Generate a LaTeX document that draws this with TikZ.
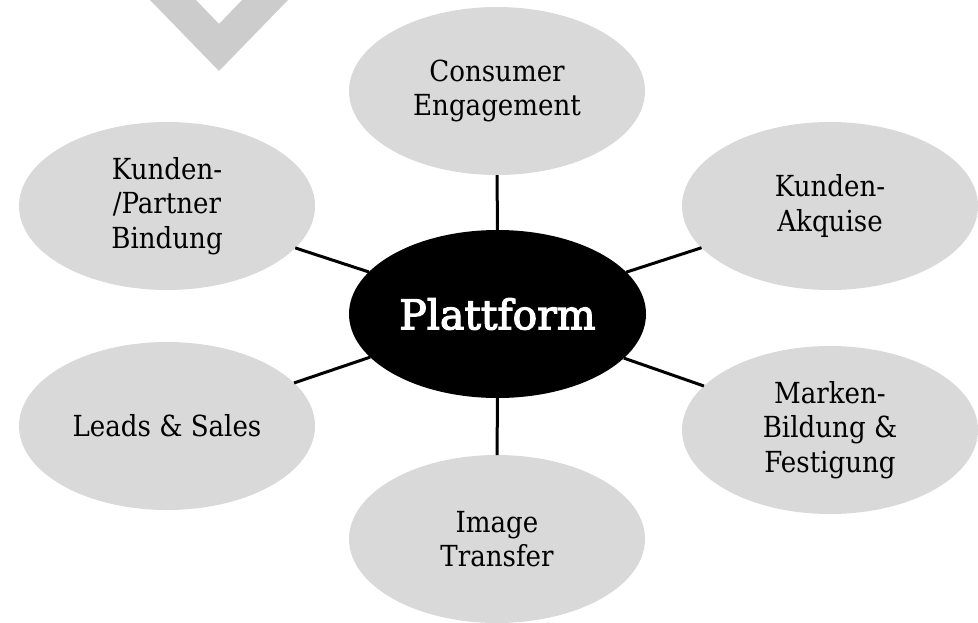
\documentclass[tikz,border=0pt]{standalone}
\usepackage{fontspec}
\setmainfont{DejaVu Serif Condensed}
\newfontfamily\hubfont[FakeBold=3]{DejaVu Serif}
\usetikzlibrary{shapes.geometric}
\definecolor{bubble}{HTML}{D9D9D9}
\definecolor{chev}{HTML}{CCCCCC}
\tikzset{
  bubble/.style={ellipse, fill=bubble, draw=none, minimum width=296pt, minimum height=168pt,
    inner sep=0pt, outer sep=0pt, align=center, text=black,
    font=\fontsize{29}{34.5}\selectfont},
  hub/.style={ellipse, fill=black, draw=none, minimum width=297pt, minimum height=168pt,
    inner sep=0pt, outer sep=0pt, text=white, font=\hubfont\fontsize{41}{44}\selectfont},
  link/.style={draw=black, line width=3pt}
}
\begin{document}
\begin{tikzpicture}[x=1pt,y=-1pt]
\useasboundingbox (0,0) rectangle (978,622);
\fill[chev] (150,0) -- (219,71) -- (288,0) -- (242,0) -- (219,24) -- (196,0) -- cycle;
\node[hub] (hub) at (497.5,314) {Plattform};
\node[bubble] (ce) at (497,91) {Consumer\\Engagement};
\node[bubble] (ka) at (830,206) {Kunden-\\Akquise};
\node[bubble] (mb) at (830,430) {Marken-\\Bildung \&\\Festigung};
\node[bubble] (it) at (497,539) {Image\\Transfer};
\node[bubble] (ls) at (167,426) {Leads \& Sales};
\node[bubble] (kp) at (167,206) {Kunden-\\/Partner\\Bindung};
\draw[link] (hub) -- (ce);
\draw[link] (hub) -- (ka);
\draw[link] (hub) -- (mb);
\draw[link] (hub) -- (it);
\draw[link] (hub) -- (ls);
\draw[link] (hub) -- (kp);
\end{tikzpicture}
\end{document}
